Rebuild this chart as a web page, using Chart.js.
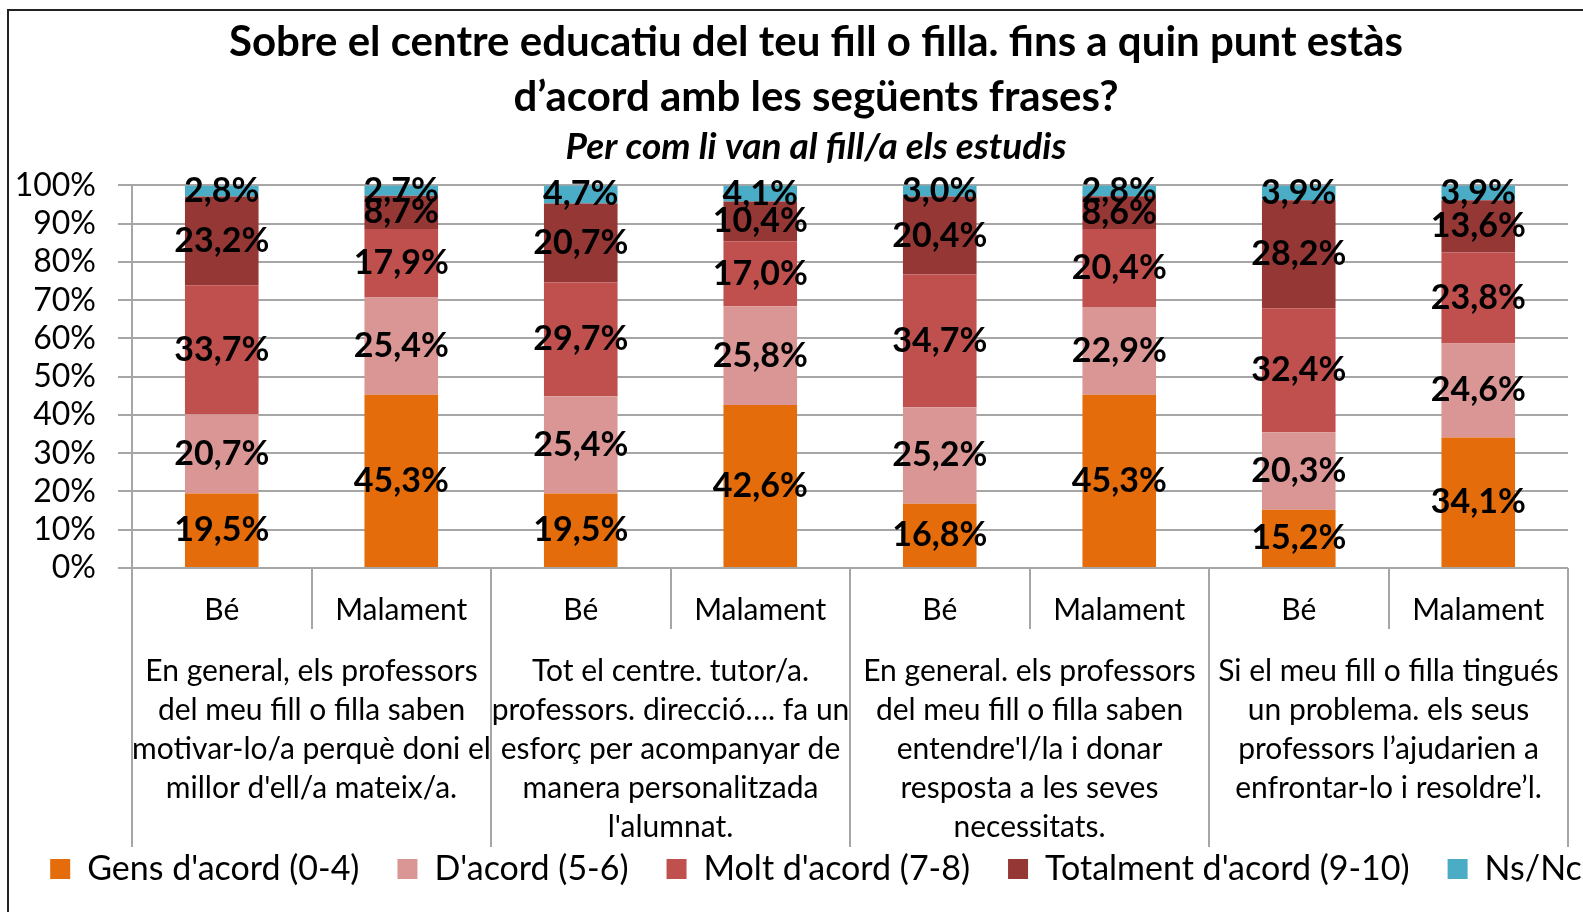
<!DOCTYPE html>
<html>
<head>
<meta charset="utf-8">
<script src="https://cdn.jsdelivr.net/npm/chart.js@4/dist/chart.umd.min.js"></script>
<style>
  html, body { margin: 0; padding: 0; background: #fff; overflow: hidden; }
  #frame { position: absolute; left: 7px; top: 9px; border-left: 2px solid #222; border-top: 2px solid #222; }
  #chart { display: block; }
</style>
</head>
<body>
<div id="frame"><canvas id="chart" width="1614" height="901"></canvas></div>
<script>
// Data
const answers = ['Bé', 'Malament', 'Bé', 'Malament', 'Bé', 'Malament', 'Bé', 'Malament'];
const questions = [
  ['En general, els professors', 'del meu fill o filla saben', 'motivar-lo/a perquè doni el', "millor d'ell/a mateix/a."],
  ['Tot el centre. tutor/a.', 'professors. direcció…. fa un', 'esforç per acompanyar de', 'manera personalitzada', "l'alumnat."],
  ['En general. els professors', 'del meu fill o filla saben', "entendre'l/la i donar", 'resposta a les seves', 'necessitats.'],
  ['Si el meu fill o filla tingués', 'un problema. els seus', 'professors l’ajudarien a', 'enfrontar-lo i resoldre’l.']
];
const seriesNames = ["Gens d'acord (0-4)", "D'acord (5-6)", "Molt d'acord (7-8)", "Totalment d'acord (9-10)", 'Ns/Nc'];
const gensAcord = [19.5, 45.3, 19.5, 42.6, 16.8, 45.3, 15.2, 34.1];
const dAcord = [20.7, 25.4, 25.4, 25.8, 25.2, 22.9, 20.3, 24.6];
const moltAcord = [33.7, 17.9, 29.7, 17.0, 34.7, 20.4, 32.4, 23.8];
const totalmentAcord = [23.2, 8.7, 20.7, 10.4, 20.4, 8.6, 28.2, 13.6];
const nsNc = [2.8, 2.7, 4.7, 4.1, 3.0, 2.8, 3.9, 3.9];
const yTicks = [0, 10, 20, 30, 40, 50, 60, 70, 80, 90, 100];

const colors = ['#E46C0A', '#DA9694', '#C0504D', '#953735', '#4BACC6'];
const FONT = "Lato, 'Open Sans', sans-serif";
const GRID = '#a6a6a6';

Chart.defaults.color = '#000';
Chart.defaults.font.family = FONT;

// value labels in the middle of each segment
const valueLabels = {
  id: 'valueLabels',
  afterDatasetsDraw(chart) {
    const ctx = chart.ctx;
    ctx.save();
    ctx.font = 'bold 34px ' + FONT;
    ctx.fillStyle = '#000';
    ctx.textAlign = 'center';
    ctx.textBaseline = 'middle';
    chart.data.datasets.forEach((ds, i) => {
      chart.getDatasetMeta(i).data.forEach((bar, j) => {
        const txt = ds.data[j].toFixed(1).replace('.', ',') + '%';
        ctx.fillText(txt, bar.x, (bar.y + bar.base) / 2);
      });
    });
    ctx.restore();
  }
};

// separator lines of the two-level category axis
const ROW1 = 61, ROW2 = 279;
const separators = {
  id: 'separators',
  afterDraw(chart) {
    const x = chart.scales.x;
    const ctx = chart.ctx;
    const step = x.getPixelForValue(1) - x.getPixelForValue(0);
    const top = chart.chartArea.bottom;
    ctx.save();
    ctx.strokeStyle = GRID;
    ctx.lineWidth = 2;
    for (let i = 0; i <= answers.length; i++) {
      const px = Math.round(x.getPixelForValue(0) - step / 2 + i * step);
      ctx.beginPath();
      ctx.moveTo(px, top);
      ctx.lineTo(px, top + (i % 2 === 0 ? ROW2 : ROW1));
      ctx.stroke();
    }
    ctx.restore();
  }
};

const datasets = [gensAcord, dAcord, moltAcord, totalmentAcord, nsNc].map((d, i) => ({
  label: seriesNames[i],
  data: d,
  backgroundColor: colors[i],
  borderWidth: 0,
  barPercentage: 0.41,
  categoryPercentage: 1
}));

new Chart(document.getElementById('chart'), {
  type: 'bar',
  data: { labels: answers, datasets: datasets },
  plugins: [valueLabels, separators],
  options: {
    responsive: false,
    animation: false,
    layout: { padding: { left: 0, right: 0, top: 0, bottom: 16 } },
    plugins: {
      title: {
        display: true,
        text: ['Sobre el centre educatiu del teu fill o filla. fins a quin punt estàs', 'd’acord amb les següents frases?'],
        font: { size: 42, weight: 'bold', lineHeight: 1.31 },
        padding: { top: 4, bottom: 0 }
      },
      subtitle: {
        display: true,
        text: 'Per com li van al fill/a els estudis',
        font: { size: 37, weight: 'bold', style: 'italic', lineHeight: 1.2 },
        padding: { top: 0, bottom: 16 }
      },
      legend: {
        position: 'bottom',
        labels: { boxWidth: 20, boxHeight: 20, padding: 38, font: { size: 34 } }
      },
      tooltip: { enabled: false }
    },
    scales: {
      x: {
        stacked: true,
        weight: 0,
        grid: { display: false, drawTicks: false },
        border: { display: false },
        ticks: { font: { size: 30, lineHeight: 1.2 }, padding: 24, maxRotation: 0, autoSkip: false }
      },
      x2: {
        type: 'category',
        labels: questions,
        position: 'bottom',
        weight: 1,
        offset: true,
        afterFit(scale) { scale.height = 162; },
        grid: { display: false, drawTicks: false },
        border: { display: false },
        // mirror keeps the last text line from being clipped by the short axis box
        ticks: { font: { size: 30, lineHeight: 1.3 }, padding: -39, mirror: true, maxRotation: 0, autoSkip: false }
      },
      y: {
        stacked: true,
        min: 0,
        max: 100,
        afterFit(scale) { scale.width = 123; },
        afterBuildTicks(scale) { scale.ticks = yTicks.map(v => ({ value: v })); },
        grid: { color: GRID, lineWidth: 2, drawTicks: true, tickLength: 14 },
        border: { display: true, color: GRID, width: 2 },
        ticks: { font: { size: 32 }, padding: 22, autoSkip: false, callback: v => v + '%' }
      },
      // empty right margin of the plot
      yRight: {
        type: 'linear',
        position: 'right',
        afterFit(scale) { scale.width = 55; },
        grid: { display: false, drawTicks: false },
        border: { display: false },
        ticks: { display: false }
      }
    }
  }
});
</script>
</body>
</html>
